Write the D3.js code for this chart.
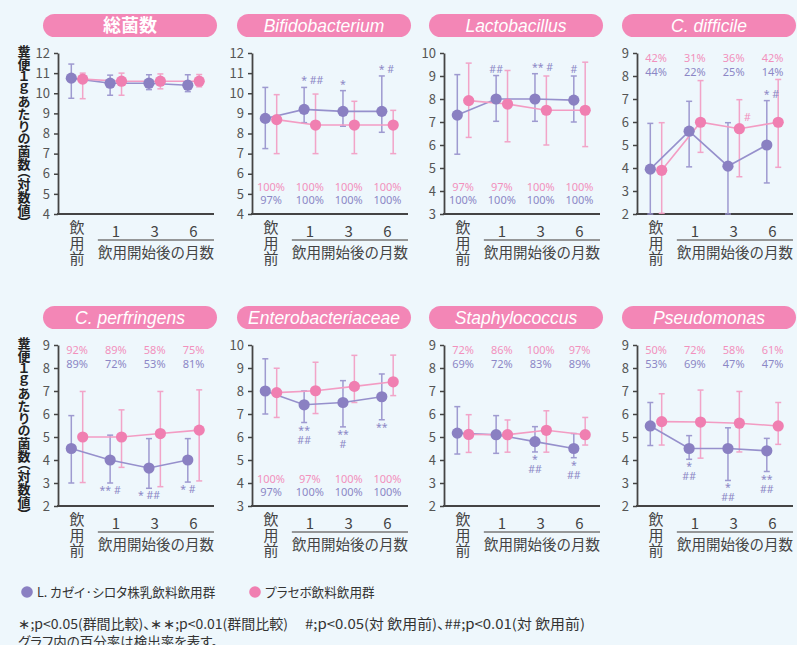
<!DOCTYPE html>
<html>
<head>
<meta charset="utf-8">
<script src="https://cdn.jsdelivr.net/npm/d3@7"></script>
<style>
  body { margin: 0; background: #eef7fc; }
  svg { display: block; font-family: "Noto Sans CJK JP", "Noto Sans", sans-serif; }
  .palt { font-feature-settings: "palt"; }
  .ytitle { writing-mode: vertical-rl; font-feature-settings: "vpal"; }
</style>
</head>
<body>
<div id="chart"></div>
<script>
// categories and panel info
var categories = ["飲用前", "1", "3", "6"];
var panelTitles = ["総菌数", "Bifidobacterium", "Lactobacillus", "C. difficile",
                   "C. perfringens", "Enterobacteriaceae", "Staphylococcus", "Pseudomonas"];
var yDomains = [[4, 12], [4, 12], [3, 10], [2, 9], [2, 9], [3, 10], [2, 9], [2, 9]];

// L. casei Shirota group (mean, lower, upper)
var caseiMean = [
    [10.75, 10.5, 10.5, 10.4], [8.75, 9.2, 9.1, 9.1], [7.3, 8.0, 8.0, 7.95], [3.95, 5.6, 4.08, 5.0],
    [4.5, 4.0, 3.65, 4.0], [8.0, 7.4, 7.5, 7.75], [5.17, 5.1, 4.8, 4.5], [5.48, 4.5, 4.5, 4.4]];
var caseiLow = [
    [9.75, 9.9, 10.18, 10.08], [7.25, 8.54, 8.36, 8.06], [5.6, 7.03, 7.03, 7.0], [2.0, 4.05, 2.0, 3.35],
    [3.0, 3.0, 2.77, 3.04], [7.0, 6.63, 6.44, 6.75], [4.26, 4.29, 4.35, 4.1], [4.63, 4.03, 3.11, 3.5]];
var caseiHigh = [
    [11.45, 10.9, 10.92, 10.92], [10.29, 10.29, 10.13, 10.86], [9.06, 9.02, 9.1, 9.0], [5.94, 6.9, 5.97, 6.93],
    [5.93, 5.08, 4.93, 4.93], [9.4, 8.0, 8.45, 8.74], [6.32, 5.93, 5.45, 5.15], [6.5, 5.06, 5.4, 4.94]];

// placebo group (mean, lower, upper)
var placeboMean = [
    [10.7, 10.6, 10.6, 10.6], [8.69, 8.42, 8.42, 8.42], [7.93, 7.78, 7.51, 7.51], [3.9, 5.99, 5.71, 5.99],
    [5.0, 5.0, 5.15, 5.3], [7.93, 8.01, 8.2, 8.4], [5.11, 5.1, 5.29, 5.1], [5.67, 5.65, 5.6, 5.48]];
var placeboLow = [
    [9.73, 9.9, 10.22, 10.32], [7.0, 7.0, 7.0, 7.0], [6.33, 6.14, 6.0, 5.93], [2.03, 4.68, 3.62, 4.03],
    [3.02, 3.68, 2.84, 3.09], [6.85, 7.02, 7.5, 7.8], [4.33, 4.34, 4.34, 4.65], [4.65, 4.08, 4.35, 4.68]];
var placeboHigh = [
    [11.0, 11.0, 10.96, 10.93], [9.93, 9.96, 9.6, 9.15], [9.56, 9.24, 9.0, 9.6], [5.97, 7.8, 6.97, 7.85],
    [6.98, 6.18, 6.98, 7.05], [8.99, 9.25, 9.55, 9.56], [5.97, 5.74, 6.14, 5.85], [6.88, 7.04, 6.98, 6.5]];

// detection rates (%)
var placeboRate = [null, [100, 100, 100, 100], [97, 97, 100, 100], [42, 31, 36, 42],
                   [92, 89, 58, 75], [100, 97, 100, 100], [72, 86, 100, 97], [50, 72, 58, 61]];
var caseiRate = [null, [97, 100, 100, 100], [100, 100, 100, 100], [44, 22, 25, 14],
                 [89, 72, 53, 81], [97, 100, 100, 100], [69, 72, 83, 89], [53, 69, 47, 47]];
var ratePlace = [null, "bottom", "bottom", "top", "top", "bottom", "top", "top"];

// significance marks: [panel, category, lines, side]
var marks = [
    [1, 1, ["* ##"], "above"], [1, 2, ["*"], "above"], [1, 3, ["* #"], "above"],
    [2, 1, ["##"], "above"], [2, 2, ["** #"], "above"], [2, 3, ["#"], "above"],
    [3, 2, ["#"], "pink"], [3, 3, ["* #"], "above"],
    [4, 1, ["** #"], "below"], [4, 2, ["* ##"], "below"], [4, 3, ["* #"], "below"],
    [5, 1, ["**", "##"], "below"], [5, 2, ["**", "#"], "below"], [5, 3, ["**"], "below"],
    [6, 2, ["*", "##"], "below"], [6, 3, ["*", "##"], "below"],
    [7, 1, ["*", "##"], "below"], [7, 2, ["*", "##"], "below"], [7, 3, ["**", "##"], "below"]];

var yTitle = "糞便１ｇあたりの菌数（対数値）";
var legendLabels = ["L. カゼイ·シロタ株乳飲料飲用群", "プラセボ飲料飲用群"];
var footnotes = ["∗;p<0.05(群間比較)、∗∗;p<0.01(群間比較)", "#;p<0.05(対 飲用前)、##;p<0.01(対 飲用前)",
                 "グラフ内の百分率は検出率を表す。"];

var purple = "#8a80c2", purpleLight = "#9690cc", pink = "#f07fb1", pinkLight = "#f39cc3",
    axisColor = "#444", textColor = "#444";

var width = 797, height = 645;
var svg = d3.select("#chart").append("svg")
    .attr("width", width)
    .attr("height", height);

svg.append("rect").attr("width", width).attr("height", height).attr("fill", "#eef7fc");

var colX = [58, 252, 444, 637],
    rowTop = [53, 345],
    plotW = 156, plotH = 161;

panelTitles.forEach(function (title, p) {
    var x0 = colX[p % 4], top = rowTop[Math.floor(p / 4)], bottom = top + plotH;
    var g = svg.append("g");

    var y = d3.scaleLinear().domain(yDomains[p]).range([bottom, top]);
    var x = d3.scalePoint().domain(d3.range(4)).range([x0 + 19, x0 + 135.5]);
    var off = 5.7;

    // title pill
    g.append("rect")
        .attr("x", x0 - 15).attr("y", top - 39)
        .attr("width", 174).attr("height", 23)
        .attr("rx", 11.5)
        .attr("fill", "#f386b6");
    g.append("text")
        .attr("x", x0 - 15 + 87).attr("y", top - 21.5)
        .attr("text-anchor", "middle")
        .attr("fill", "white")
        .style("font-family", p === 0 ? "'Noto Sans CJK JP'" : "'Liberation Sans', Arial, sans-serif")
        .style("font-size", p === 0 ? "18px" : "17.5px")
        .style("font-weight", p === 0 ? 700 : 400)
        .style("font-style", p === 0 ? "normal" : "italic")
        .text(title);

    // y axis
    var ax = g.append("g")
        .attr("transform", "translate(" + x0 + ",0)")
        .call(d3.axisLeft(y)
            .tickValues(d3.range(yDomains[p][0], yDomains[p][1] + 1))
            .tickFormat(d3.format("d"))
            .tickSize(4).tickSizeOuter(0).tickPadding(4));
    ax.select(".domain").attr("stroke", axisColor).attr("stroke-width", 1.8);
    ax.selectAll(".tick line").attr("stroke", axisColor).attr("stroke-width", 1.5);
    ax.selectAll(".tick text")
        .attr("fill", "#555")
        .style("font-size", "13px")
        .style("font-family", "'Noto Sans CJK JP'");

    // x axis line
    g.append("line")
        .attr("x1", x0 - 1).attr("x2", x0 + plotW)
        .attr("y1", bottom).attr("y2", bottom)
        .attr("stroke", axisColor).attr("stroke-width", 2);

    // x labels
    ["飲", "用", "前"].forEach(function (c, k) {
        g.append("text")
            .attr("x", x(0)).attr("y", bottom + 19 + k * 15.5)
            .attr("text-anchor", "middle")
            .attr("fill", textColor)
            .style("font-size", "15px")
            .text(c);
    });
    categories.slice(1).forEach(function (c, k) {
        g.append("text")
            .attr("x", x(k + 1)).attr("y", bottom + 23)
            .attr("text-anchor", "middle")
            .attr("fill", textColor)
            .style("font-size", "15px")
            .text(c);
    });
    g.append("line")
        .attr("x1", x(1) - 18).attr("x2", x0 + plotW)
        .attr("y1", bottom + 26).attr("y2", bottom + 26)
        .attr("stroke", "#777").attr("stroke-width", 1.5);
    g.append("text")
        .attr("x", (x(1) - 18 + x0 + plotW) / 2).attr("y", bottom + 44)
        .attr("text-anchor", "middle")
        .attr("fill", textColor)
        .style("font-size", "14.5px")
        .text("飲用開始後の月数");

    // rates
    if (placeboRate[p]) {
        var ry1 = ratePlace[p] === "top" ? top + 9 : bottom - 23;
        var ry2 = ratePlace[p] === "top" ? top + 23 : bottom - 10;
        placeboRate[p].forEach(function (v, i) {
            g.append("text").attr("x", x(i)).attr("y", ry1)
                .attr("text-anchor", "middle").attr("fill", "#f291bc")
                .style("font-size", "11px").style("font-family", "'Noto Sans'")
                .text(v + "%");
        });
        caseiRate[p].forEach(function (v, i) {
            g.append("text").attr("x", x(i)).attr("y", ry2)
                .attr("text-anchor", "middle").attr("fill", "#8c87c6")
                .style("font-size", "11px").style("font-family", "'Noto Sans'")
                .text(v + "%");
        });
    }

    var series = [
        {mean: caseiMean[p], low: caseiLow[p], high: caseiHigh[p], dx: -off, c: purple, cl: purpleLight},
        {mean: placeboMean[p], low: placeboLow[p], high: placeboHigh[p], dx: off, c: pink, cl: pinkLight}
    ];

    // error bars
    series.forEach(function (s) {
        var eb = g.append("g").attr("stroke", s.cl).attr("stroke-width", 1.5).attr("opacity", 0.9);
        s.mean.forEach(function (m, i) {
            var cx = x(i) + s.dx;
            eb.append("line").attr("x1", cx).attr("x2", cx).attr("y1", y(s.low[i])).attr("y2", y(s.high[i]));
            eb.append("line").attr("x1", cx - 3).attr("x2", cx + 3).attr("y1", y(s.low[i])).attr("y2", y(s.low[i]));
            eb.append("line").attr("x1", cx - 3).attr("x2", cx + 3).attr("y1", y(s.high[i])).attr("y2", y(s.high[i]));
        });
    });

    // lines and points
    series.forEach(function (s) {
        var line = d3.line()
            .x(function (d, i) { return x(i) + s.dx; })
            .y(function (d) { return y(d); });
        g.append("path").datum(s.mean)
            .attr("d", line).attr("fill", "none")
            .attr("stroke", s.cl).attr("stroke-width", 1.6);
    });
    series.forEach(function (s) {
        g.selectAll(null).data(s.mean).enter().append("circle")
            .attr("cx", function (d, i) { return x(i) + s.dx; })
            .attr("cy", function (d) { return y(d); })
            .attr("r", 5.6)
            .attr("fill", s.c);
    });

    // significance marks (one text each, lines as tspans)
    marks.filter(function (m) { return m[0] === p; }).forEach(function (m) {
        var i = m[1], lines = m[2], side = m[3];
        var cx = x(i) - off, tx = cx, ty, anchor = "middle", col = "#8c87c6";
        if (side === "above") {
            ty = y(caseiHigh[p][i]) - 3;
            if (lines[0].indexOf(" ") > 0 && lines[0][0] === "*") { anchor = "start"; tx = cx - 3; }
        } else if (side === "below") {
            ty = y(caseiLow[p][i]) + 11;
        } else {
            tx = x(i) + off + 8;
            ty = y(placeboHigh[p][i]) + 21;
            col = "#f291bc";
        }
        var t = g.append("text").attr("y", ty)
            .attr("text-anchor", anchor).attr("fill", col)
            .style("font-size", "10.5px").style("font-family", "'Noto Sans'");
        lines.forEach(function (s, k) {
            t.append("tspan").attr("x", tx).attr("dy", k === 0 ? 0 : 10).text(s);
        });
    });

    // y axis title (first column only)
    if (p % 4 === 0) {
        svg.append("text")
            .attr("class", "ytitle")
            .attr("x", 24).attr("y", top + plotH / 2)
            .attr("text-anchor", "middle")
            .attr("fill", "#222")
            .style("font-size", "13px")
            .style("font-weight", 700)
            .text(yTitle);
    }
});

// legend
var legendX = [27, 255], legendColors = [purple, pink];
legendLabels.forEach(function (t, k) {
    svg.append("circle").attr("cx", legendX[k]).attr("cy", 592).attr("r", 5.8).attr("fill", legendColors[k]);
    svg.append("text").attr("class", "palt")
        .attr("x", legendX[k] + 10).attr("y", 596.5).attr("fill", "#333")
        .style("font-size", "12.6px").text(t);
});

// footnotes
var footX = [18, 305, 18], footY = [628.5, 628.5, 647], footLen = [270, 280, null];
footnotes.forEach(function (t, k) {
    var ft = svg.append("text").attr("class", "palt")
        .attr("x", footX[k]).attr("y", footY[k]).attr("fill", "#333")
        .style("font-size", "13.5px")
        .text(t);
    if (footLen[k]) ft.attr("textLength", footLen[k]).attr("lengthAdjust", "spacingAndGlyphs");
});
</script>
</body>
</html>
